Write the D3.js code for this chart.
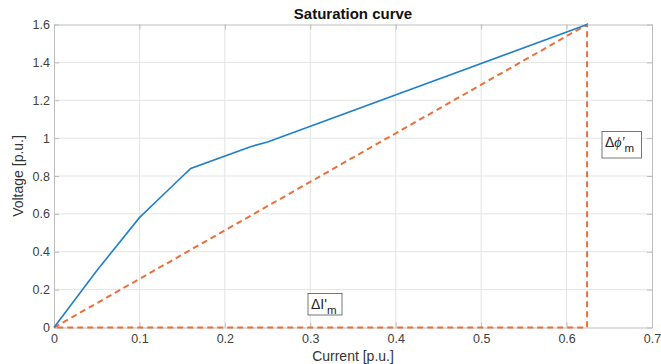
<!DOCTYPE html>
<html><head><meta charset="utf-8">
<script src="https://cdn.jsdelivr.net/npm/d3@7"></script>
<style>
html,body{margin:0;padding:0;background:#fff;}
svg{display:block;font-family:"Liberation Sans",Arial,Helvetica,sans-serif;}
</style></head>
<body><svg id="c" width="661" height="364"></svg>
<script>
const currentVals = [0, 0.05, 0.1, 0.13, 0.16, 0.23, 0.25, 0.624];
const voltageVals = [0, 0.30, 0.58, 0.71, 0.84, 0.955, 0.98, 1.6];
const chordCurrent = [0, 0.624, 0.624, 0];
const chordVoltage = [0, 1.6, 0, 0];
const xTicks = [0, 0.1, 0.2, 0.3, 0.4, 0.5, 0.6, 0.7];
const yTicks = [0, 0.2, 0.4, 0.6, 0.8, 1, 1.2, 1.4, 1.6];
const titleText = "Saturation curve";
const xLabel = "Current [p.u.]";
const yLabel = "Voltage [p.u.]";

const svg = d3.select("#c");
const L = 54, R = 652, T = 24.5, B = 327.5;
const x = d3.scaleLinear().domain([0, 0.7]).range([L, R]);
const y = d3.scaleLinear().domain([0, 1.6]).range([B, T]);
const fmt = d => d === 0 ? "0" : String(+d.toFixed(1));

// grid
const g = svg.append("g");
g.selectAll("line.gx").data(xTicks.slice(1, -1)).join("line")
  .attr("x1", d => x(d)).attr("x2", d => x(d)).attr("y1", T).attr("y2", B)
  .attr("stroke", "#e3e3e3").attr("stroke-width", 1);
g.selectAll("line.gy").data(yTicks.slice(1, -1)).join("line")
  .attr("y1", d => y(d)).attr("y2", d => y(d)).attr("x1", L).attr("x2", R)
  .attr("stroke", "#e3e3e3").attr("stroke-width", 1);

// axes
const axB = d3.axisBottom(x).tickValues(xTicks).tickFormat(fmt).tickSizeInner(-5).tickSizeOuter(0).tickPadding(7);
const axL = d3.axisLeft(y).tickValues(yTicks).tickFormat(fmt).tickSizeInner(-5).tickSizeOuter(0).tickPadding(4);
const axT = d3.axisTop(x).tickValues(xTicks).tickFormat("").tickSizeInner(-5).tickSizeOuter(0);
const axR = d3.axisRight(y).tickValues(yTicks).tickFormat("").tickSizeInner(-5).tickSizeOuter(0);
function style(sel){
  sel.selectAll("path").attr("stroke", "#bdbdbd");
  sel.selectAll("line").attr("stroke", "#bdbdbd");
  sel.selectAll("text").attr("fill", "#404040").style("font-size", "12.5px").style("font-family", "Liberation Sans, Arial, sans-serif");
}
svg.append("g").attr("transform", `translate(0,${B})`).call(axB).call(style);
svg.append("g").attr("transform", `translate(${L},0)`).call(axL).call(style);
svg.append("g").attr("transform", `translate(0,${T})`).call(axT).call(style);
svg.append("g").attr("transform", `translate(${R},0)`).call(axR).call(style);

// chord dashed lines
const chord = chordCurrent.map((c, i) => [c, chordVoltage[i]]);
svg.append("path").datum(chord)
  .attr("d", d3.line().x(d => x(d[0])).y(d => y(d[1])))
  .attr("fill", "none").attr("stroke", "#e8703a").attr("stroke-width", 2)
  .attr("stroke-dasharray", "6,4");

// saturation curve
const curve = currentVals.map((c, i) => [c, voltageVals[i]]);
svg.append("path").datum(curve)
  .attr("d", d3.line().x(d => x(d[0])).y(d => y(d[1])))
  .attr("fill", "none").attr("stroke", "#1f7fc8").attr("stroke-width", 1.6);

// annotation boxes
function box(x0, y0, w, h, main, sym, sub) {
  svg.append("rect").attr("x", x0).attr("y", y0).attr("width", w).attr("height", h)
    .attr("fill", "#fff").attr("stroke", "#555").attr("stroke-width", 0.8);
  const t = svg.append("text").attr("x", x0 + 3).attr("y", y0 + 15)
    .attr("fill", "#222").style("font-size", "14px").style("font-family", "Liberation Sans, Arial, sans-serif");
  t.append("tspan").text(main);
  t.append("tspan").style("font-style", sym === "I'" ? "normal" : "italic").style("font-family", sym === "I'" ? null : "Liberation Serif, serif").text(sym);
  t.append("tspan").attr("dy", 5).style("font-size", "11.5px").text(sub);
}
box(308, 293.5, 34, 21.5, "\u0394", "I'", "m");
box(602, 131.5, 39.5, 26.5, "\u0394", "\u03d5'", "m");

// title + labels
svg.append("text").attr("x", (L + R) / 2).attr("y", 19).attr("text-anchor", "middle")
  .style("font-size", "15px").style("font-weight", "bold").attr("fill", "#111").text(titleText);
svg.append("text").attr("x", (L + R) / 2).attr("y", 361).attr("text-anchor", "middle")
  .style("font-size", "14px").attr("fill", "#333").text(xLabel);
svg.append("text").attr("transform", `translate(23,${(T + B) / 2}) rotate(-90)`).attr("text-anchor", "middle")
  .style("font-size", "14px").attr("fill", "#333").text(yLabel);
</script></body></html>
